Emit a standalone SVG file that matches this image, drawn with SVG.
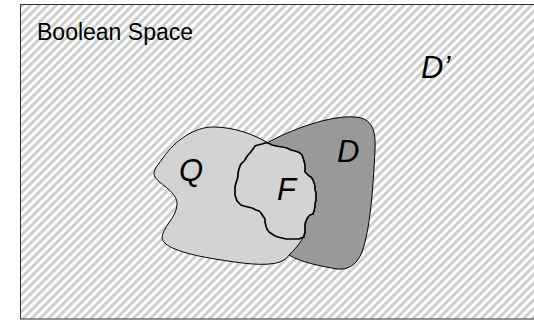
<svg xmlns="http://www.w3.org/2000/svg" width="534" height="320" viewBox="0 0 534 320">
<style>
.lbl{font-family:"Liberation Sans",Arial,sans-serif;fill:#000}
.it{font-style:italic;font-size:31px}
.edge{stroke:#000;stroke-width:1;stroke-linejoin:round}
</style>
<defs>
<pattern id="hatch" patternUnits="userSpaceOnUse" width="6" height="6" patternTransform="rotate(45)">
<rect x="0" y="0" width="6" height="6" fill="#fff"/>
<rect x="0" y="0" width="3" height="6" fill="#cfcfcf"/>
</pattern>
</defs>
<rect width="534" height="320" fill="#fff"/>
<g id="space">
<rect x="20.5" y="4.5" width="530" height="314.5" fill="url(#hatch)" stroke="#333" stroke-width="1"/>
<text class="lbl" x="37" y="40" font-size="23">Boolean Space</text>
</g>
<g id="Dprime">
<text class="lbl it" x="421" y="78">D’</text>
</g>
<g id="D">
<path class="edge" fill="#999" d="M 267,143 C 290,130 330,115 355,117 C 372,118 376,130 375,150 C 373,190 370,230 362,252 C 357,265 348,270 337,269 C 320,266 300,262 289,255 L 250,200 Z"/>
<text class="lbl it" x="337" y="162">D</text>
</g>
<g id="Q">
<path class="edge" fill="#d3d3d3" d="M 213,127 C 195,127 175,140 163,158 C 156,167 152,172 155,177 C 160,185 178,192 177,205 C 176,218 162,228 162,238 C 163,248 190,255 215,259 C 240,263 265,267 280,262 C 285,260 288,257 290,254 C 297,247 303,240 305,232 L 300,170 L 268,143 C 255,135 235,127 213,127 Z"/>
<text class="lbl it" x="179" y="181">Q</text>
</g>
<g id="F">
<path fill="#d3d3d3" stroke="#000" stroke-width="1.7" stroke-linejoin="round" d="M250,153 L253,149 L255,146 L258,145 L262,144 L265,143 L268,143 L272,145 L276,146 L282,147 L287,148 L291,150 L295,151 L298,152 L300,153 L302,155 L303,158 L304,161 L305,165 L305,169 L305,172 L307,174 L309,176 L311,177 L313,180 L314,183 L315,186 L315,190 L316,193 L316,200 L315,204 L315,207 L314,211 L313,214 L310,215 L308,217 L307,219 L306,221 L305,224 L305,227 L305,230 L305,233 L304,235 L304,237 L301,238 L299,239 L294,239 L290,239 L286,239 L282,238 L278,237 L275,236 L272,234 L269,232 L267,229 L266,226 L265,222 L265,219 L263,216 L261,213 L259,211 L256,210 L252,208 L248,207 L244,206 L241,205 L239,203 L237,201 L236,198 L235,195 L235,191 L235,187 L236,183 L237,180 L238,176 L238,173 L239,169 L240,166 L241,164 L243,162 L245,160 L246,158 L248,155 Z"/>
<text class="lbl it" x="277" y="200">F</text>
</g>
<g id="connectors"/>
</svg>
